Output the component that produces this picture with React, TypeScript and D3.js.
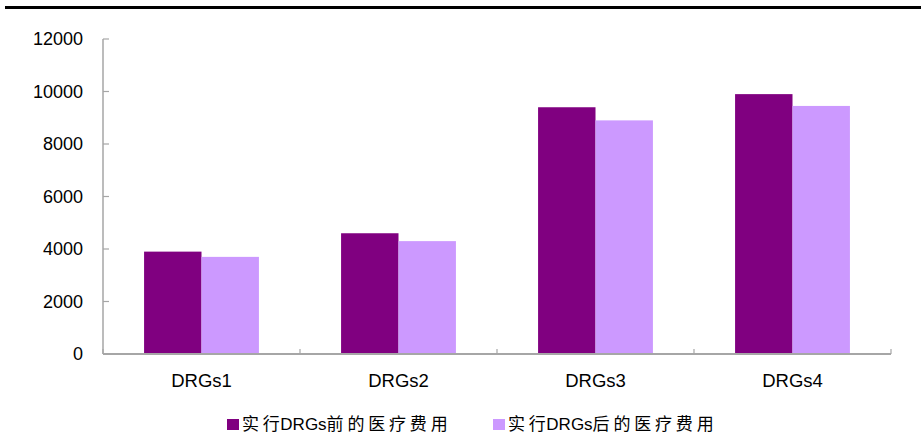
import React from "react";
import * as d3 from "d3";

const categories = ["DRGs1", "DRGs2", "DRGs3", "DRGs4"];
const seriesNames = ["实行DRGs前的医疗费用", "实行DRGs后的医疗费用"];
const beforeCost = [3900, 4600, 9400, 9900];
const afterCost = [3700, 4300, 8900, 9450];
const yTicks = [0, 2000, 4000, 6000, 8000, 10000, 12000];

const colors = ["#800080", "#CC99FF"];
const axisColor = "#a6a6a6";
const latin = "'Liberation Sans', Arial, sans-serif";
const cjk = "'Liberation Sans', 'Noto Sans CJK SC', sans-serif";

const W = 921;
const H = 435;
const left = 103;
const right = 891;
const top = 39;
const bottom = 354;

// Per-character gap: CJK characters are spaced out, except directly before Latin text.
function charGaps(label: string) {
  const chars = Array.from(label);
  const isWide = (ch: string) => /[\u3000-\u9fff]/.test(ch);
  return chars.map((ch, i) => {
    const next = chars[i + 1];
    const gap = isWide(ch) && next !== undefined && isWide(next) ? 3.8 : isWide(ch) && next ? 0.5 : 0;
    return { ch, gap };
  });
}

export default function App() {
  const y = d3.scaleLinear().domain([0, 12000]).range([bottom, top]);
  const x0 = d3.scaleBand<string>().domain(categories).range([left, right]).padding(0);
  const groupW = x0.bandwidth() * 0.583;
  const x1 = d3.scaleBand<string>().domain(seriesNames).range([0, groupW]).padding(0);
  const offset = (x0.bandwidth() - groupW) / 2;
  const series = [beforeCost, afterCost];

  const boundaries = d3.range(categories.length + 1).map((i) => left + i * x0.bandwidth());

  return (
    <svg
      width={W}
      height={H}
      style={{ position: "absolute", left: 0, top: 0, background: "#fff" }}
    >
      <rect x={0} y={0} width={W} height={H} fill="#fff" />
      {/* rule across the top */}
      <line x1={5} x2={W} y1={7.5} y2={7.5} stroke="#000" strokeWidth={3} />

      {/* y axis */}
      <line x1={left} x2={left} y1={top} y2={bottom} stroke={axisColor} strokeWidth={1.5} />
      {yTicks.map((t) => (
        <g key={t}>
          <line x1={left} x2={left + 6} y1={y(t)} y2={y(t)} stroke={axisColor} strokeWidth={1.2} />
          <text
            x={83}
            y={y(t)}
            dy="0.35em"
            textAnchor="end"
            fontFamily={latin}
            fontSize={18}
            fill="#000"
          >
            {t}
          </text>
        </g>
      ))}

      {/* bars */}
      {categories.map((c, i) => (
        <g key={c} transform={`translate(${(x0(c) ?? 0) + offset},0)`}>
          {series.map((vals, s) => (
            <rect
              key={s}
              x={x1(seriesNames[s]) ?? 0}
              y={y(vals[i])}
              width={x1.bandwidth()}
              height={bottom - y(vals[i])}
              fill={colors[s]}
            />
          ))}
        </g>
      ))}

      {/* x axis */}
      <line x1={left} x2={right} y1={bottom} y2={bottom} stroke={axisColor} strokeWidth={2} />
      {boundaries.map((bx, i) => (
        <line key={i} x1={bx} x2={bx} y1={bottom} y2={bottom - 5} stroke={axisColor} strokeWidth={1.2} />
      ))}
      {categories.map((c) => (
        <text
          key={c}
          x={(x0(c) ?? 0) + x0.bandwidth() / 2}
          y={387}
          textAnchor="middle"
          fontFamily={latin}
          fontSize={18.5}
          fill="#000"
        >
          {c}
        </text>
      ))}

      {/* legend */}
      {seriesNames.map((name, s) => {
        const lx = s === 0 ? 227 : 493;
        return (
          <g key={name}>
            <rect x={lx} y={419} width={12} height={11} fill={colors[s]} />
            <text x={lx + 15} y={430} fontFamily={cjk} fontSize={17} fill="#000">
              {charGaps(name).map((g, k) => (
                <tspan key={k} letterSpacing={g.gap}>
                  {g.ch}
                </tspan>
              ))}
            </text>
          </g>
        );
      })}
    </svg>
  );
}
